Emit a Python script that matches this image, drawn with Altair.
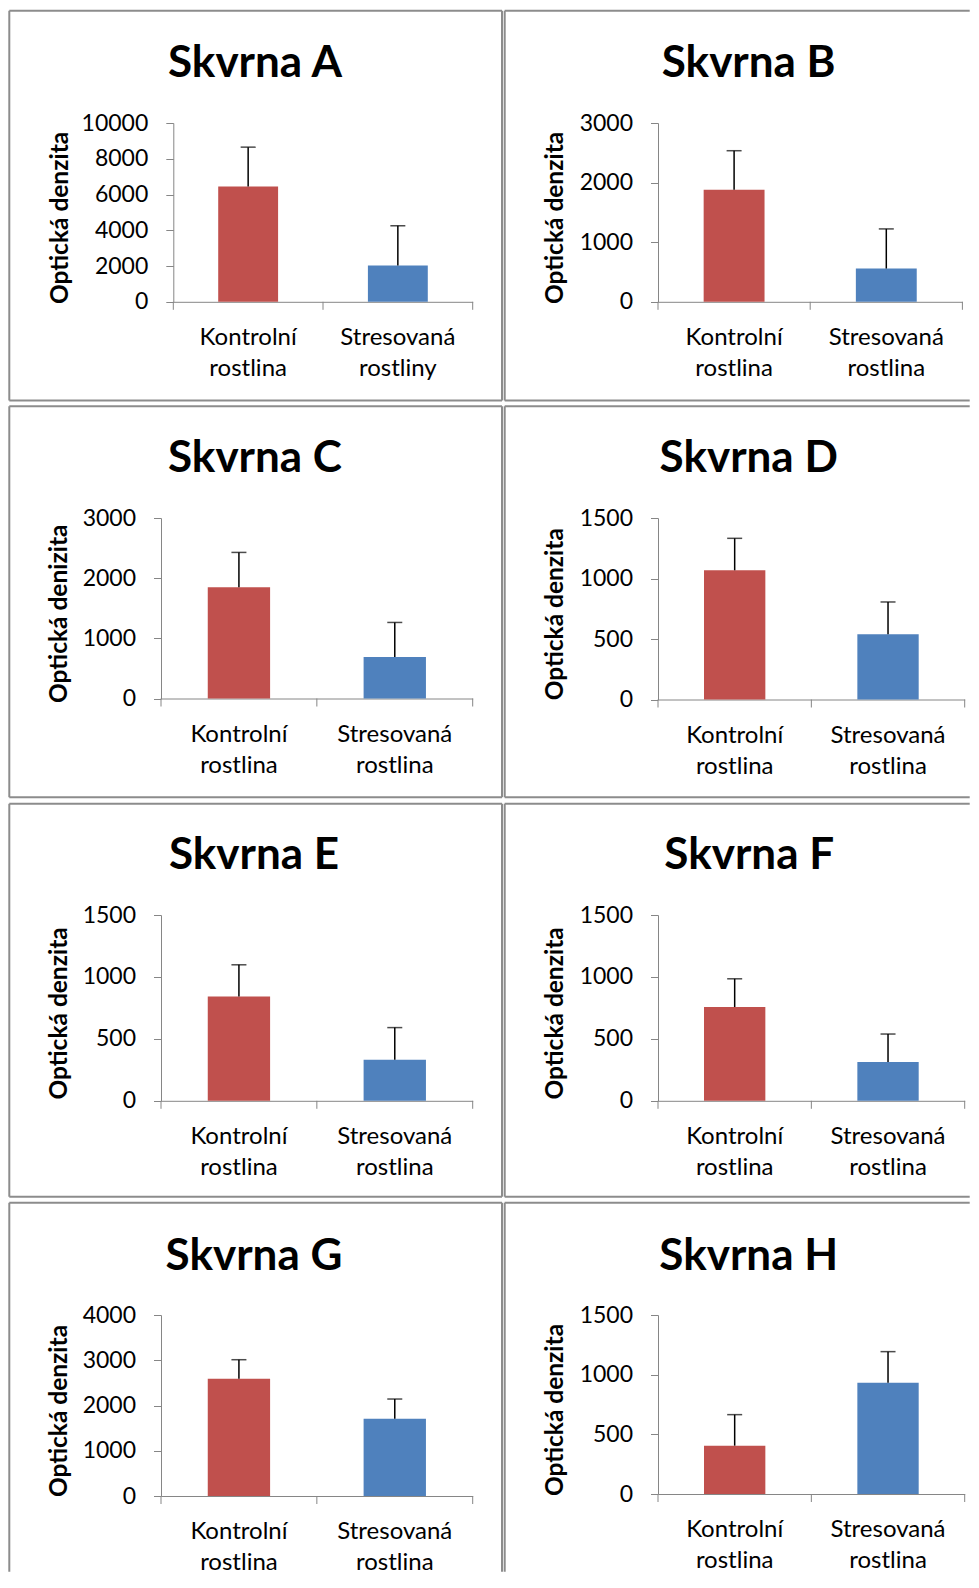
import altair as alt
import pandas as pd

# ---------------- data ----------------
panel_titles = ["Skvrna A", "Skvrna B", "Skvrna C", "Skvrna D",
                "Skvrna E", "Skvrna F", "Skvrna G", "Skvrna H"]
y_titles = ["Optická denzita", "Optická denzita", "Optická denizita", "Optická denzita",
            "Optická denzita", "Optická denzita", "Optická denzita", "Optická denzita"]
control_labels = ["Kontrolní rostlina"] * 8
stress_labels = ["Stresovaná rostliny", "Stresovaná rostlina", "Stresovaná rostlina",
                 "Stresovaná rostlina", "Stresovaná rostlina", "Stresovaná rostlina",
                 "Stresovaná rostlina", "Stresovaná rostlina"]
control_mean = [6450, 1880, 1850, 1068, 842, 757, 2592, 405]
control_err = [2200, 655, 578, 264, 256, 228, 420, 260]
stress_mean = [2030, 558, 688, 539, 332, 314, 1708, 933]
stress_err = [2222, 665, 576, 267, 259, 225, 435, 260]
y_max = [10000, 3000, 3000, 1500, 1500, 1500, 4000, 1500]
y_step = [2000, 1000, 1000, 500, 500, 500, 1000, 500]

# ---------------- layout (page pixel positions) ----------------
# plot x0, plot y0, plot w, plot h, range start, frame left, frame top, frame right, frame bottom
LAYOUT = [
    (161.0, 122.5, 311.7, 178.8, 12.3, 9.3, 10.3, 502, 400),
    (657.3, 122.5, 304.4, 178.8, 0.0, 504, 10.3, 969, 400),
    (161.0, 517.8, 311.7, 180.5, 0.0, 9.3, 406, 502, 797),
    (657.3, 517.8, 306.7, 181.5, 0.0, 504, 406, 969, 797),
    (161.0, 914.2, 311.7, 185.8, 0.0, 9.3, 803, 502, 1196),
    (657.3, 914.2, 306.7, 185.8, 0.0, 504, 803, 969, 1196),
    (161.0, 1314.3, 311.7, 181.0, 0.0, 9.3, 1202, 502, 1571),
    (657.3, 1314.3, 306.7, 179.0, 0.0, 504, 1202, 969, 1571),
]
TITLE_POS = [(255, 76.5), (748, 76), (255, 472), (748, 472),
             (254, 868), (748.5, 868), (254, 1269.3), (748, 1269.3)]
TITLE_PAD = [9, 12, 11, 12, 11, 12, 11, 12]

RED = "#C0504D"
BLUE = "#4F81BD"
AXIS_GRAY = "#868686"
FRAME_GRAY = "#8c8c8c"
FONT = "Lato"


def panel(i):
    x0, y0, w, h, rs, fl, ft, fr, fb = LAYOUT[i]
    cats = [control_labels[i], stress_labels[i]]
    df = pd.DataFrame({
        "group": cats,
        "kind": ["control", "stress"],
        "mean": [control_mean[i], stress_mean[i]],
        "err": [control_err[i], stress_err[i]],
    })
    df["top"] = df["mean"] + df["err"]

    xscale = alt.Scale(paddingInner=0.6, paddingOuter=0.3, range=[rs, w])
    xaxis = alt.Axis(title=None, labelAngle=0, ticks=False, domain=True,
                     labelExpr="split(datum.label, ' ')",
                     labelPadding=23.5, labelLineHeight=31,
                     labelFontSize=24, labelFont=FONT, labelColor="black")
    tick_values = list(range(0, y_max[i] + 1, y_step[i]))
    yscale = alt.Scale(domain=[0, y_max[i]], nice=False, zero=True)
    yaxis = alt.Axis(values=tick_values, tickCount=len(tick_values), grid=False,
                     tickSize=7.5, labelPadding=18, titlePadding=TITLE_PAD[i],
                     labelOverlap=False, labelFontSize=23, labelFlush=False,
                     titleY=h / 2 + 5, format="d", offset=-rs, title=y_titles[i])

    def X():
        return alt.X("group:N", sort=cats, scale=xscale, axis=xaxis)

    def Y(field):
        return alt.Y(field, scale=yscale, axis=yaxis)

    base = alt.Chart(alt.Data(values=df.to_dict("records")))
    bars = base.mark_bar().encode(
        x=X(), y=Y("mean:Q"),
        color=alt.Color("kind:N", scale=alt.Scale(domain=["control", "stress"], range=[RED, BLUE]),
                        legend=None),
    )
    err = base.mark_rule(color="black", strokeWidth=1.5).encode(
        x=X(), y=Y("mean:Q"), y2="top:Q",
    )
    cap = base.mark_tick(color="black", thickness=1.5, size=15, orient="horizontal").encode(
        x=X(), y=Y("top:Q"),
    )

    one = alt.Data(values=[{"t": panel_titles[i]}])
    layers = [bars, err, cap]

    # category boundary ticks on the x axis
    for tx in (rs, (rs + w) / 2, w):
        layers.append(alt.Chart(one).mark_rule(color=AXIS_GRAY, strokeWidth=1).encode(
            x=alt.value(tx), y=alt.value(h), y2=alt.value(h + 8)))

    # panel frame
    L, R, T, B = fl - x0, fr - x0, ft - y0, fb - y0
    col = i % 2
    row = i // 2
    frame = [(L, L, T, B)]                 # left edge
    frame.append((L, R, T, T))             # top edge
    if col == 0:
        frame.append((R, R, T, B))         # right edge
    if row < 3:
        frame.append((L, R, B, B))         # bottom edge
    for a, b, c, d in frame:
        if a == b:
            enc = dict(x=alt.value(a), y=alt.value(c), y2=alt.value(d))
        else:
            enc = dict(x=alt.value(a), x2=alt.value(b), y=alt.value(c))
        layers.append(alt.Chart(one).mark_rule(color=FRAME_GRAY, strokeWidth=2).encode(**enc))

    # panel title
    tx, ty = TITLE_POS[i]
    layers.append(alt.Chart(one).mark_text(
        font=FONT, fontSize=44, fontWeight="bold", color="black",
        align="center", baseline="alphabetic").encode(
        text="t:N", x=alt.value(tx - x0), y=alt.value(ty - y0)))

    return alt.layer(*layers).properties(width=w, height=h)


rows = [alt.hconcat(panel(2 * r), panel(2 * r + 1), spacing=0) for r in range(4)]
chart = alt.vconcat(*rows, spacing=3).properties(
    padding={"left": 0, "top": 1, "right": 0, "bottom": 0},
    background="white",
).configure_view(stroke=None).configure_axis(
    domainColor=AXIS_GRAY, tickColor=AXIS_GRAY, domainWidth=1, tickWidth=1,
    labelFont=FONT, labelFontSize=23, labelColor="black",
    titleFont=FONT, titleFontSize=24.5, titleFontWeight="bold", titleColor="black",
)

chart.save("out.html", embed_options={"renderer": "svg", "actions": False})
